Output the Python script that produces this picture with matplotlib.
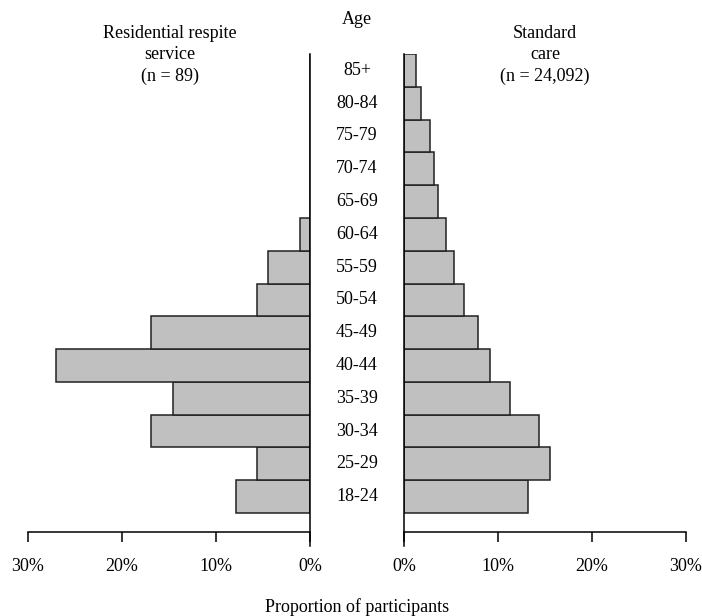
import matplotlib
matplotlib.use("Agg")
import matplotlib.pyplot as plt
import matplotlib.transforms as mtransforms
import numpy as np

plt.rcParams['font.family'] = ['Liberation Serif', 'DejaVu Serif']
plt.rcParams['font.size'] = 13

# age groups, bottom to top
ages = ['18-24', '25-29', '30-34', '35-39', '40-44', '45-49', '50-54',
        '55-59', '60-64', '65-69', '70-74', '75-79', '80-84', '85+']
# percentages
respite = [7.9, 5.6, 16.9, 14.6, 27.0, 16.9, 5.6, 4.5, 1.1, 0, 0, 0, 0, 0]
standard = [13.2, 15.5, 14.4, 11.3, 9.1, 7.9, 6.4, 5.3, 4.5, 3.6, 3.2, 2.8, 1.8, 1.3]
xticks = [0, 10, 20, 30]

W, H = 702, 616
fig = plt.figure(figsize=(W / 100, H / 100), dpi=100)

top_px, bot_px = 54, 546
axl = fig.add_axes([28 / W, (H - bot_px) / H, 282 / W, (bot_px - top_px) / H])
axr = fig.add_axes([404 / W, (H - bot_px) / H, 282 / W, (bot_px - top_px) / H])

y = np.arange(len(ages))
unit = (513 - top_px) / len(ages)
ybot = -0.5 - (bot_px - 513) / unit
yaxis = -0.5 - (532 - 513) / unit

bar_kw = dict(height=1.0, color='#c0c0c0', edgecolor='#222222', linewidth=1.1)
axl.barh(y, respite, **bar_kw)
axr.barh(y, standard, **bar_kw)

for ax, side in ((axl, 'right'), (axr, 'left')):
    ax.set_xlim(0, 30)
    ax.set_ylim(ybot, len(ages) - 0.5)
    for s in ax.spines.values():
        s.set_visible(False)
    ax.spines[side].set_visible(True)
    ax.spines[side].set_linewidth(1.1)
    ax.spines['bottom'].set_visible(True)
    ax.spines['bottom'].set_position(('data', yaxis))
    ax.spines['bottom'].set_bounds(0, 30)
    ax.spines['bottom'].set_linewidth(1.1)
    ax.set_yticks([])
    ax.set_xticks(xticks)
    ax.set_xticklabels(['%d%%' % t for t in xticks])
    ax.tick_params(axis='x', direction='out', length=7.5, width=1.1, pad=11, labelsize=13)
    ax.patch.set_visible(False)
axl.invert_xaxis()

# age labels in the middle
tr = mtransforms.blended_transform_factory(fig.transFigure, axl.transData)
for yi, lab in zip(y, ages):
    fig.text(357 / W, yi, lab, transform=tr, ha='center', va='center', fontsize=13)

fig.text(357 / W, 1 - 20 / H, 'Age', ha='center', va='center', fontsize=13)
fig.text(170 / W, 1 - 55 / H, 'Residential respite\nservice\n(n = 89)',
         ha='center', va='center', fontsize=13, linespacing=1.35)
fig.text(545 / W, 1 - 55 / H, 'Standard\ncare\n(n = 24,092)',
         ha='center', va='center', fontsize=13, linespacing=1.35)
fig.text(357 / W, 1 - 607 / H, 'Proportion of participants',
         ha='center', va='center', fontsize=13)

fig.savefig('out.png', dpi=100)
